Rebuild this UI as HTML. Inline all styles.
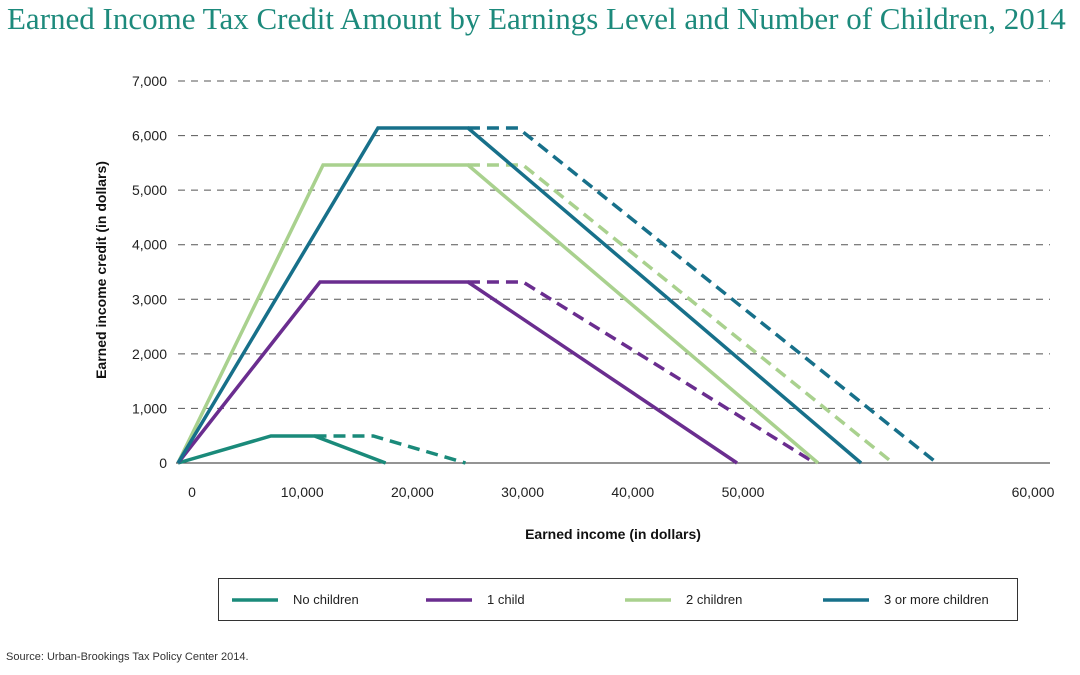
<!DOCTYPE html>
<html><head><meta charset="utf-8"><style>
body{margin:0;width:1080px;height:675px;background:#fff;overflow:hidden;font-family:"Liberation Sans",sans-serif}
#title{position:absolute;left:7px;top:1px;font-family:"Liberation Serif",serif;font-size:31px;color:#1d8a7c;white-space:nowrap;letter-spacing:0px}
#src{position:absolute;left:6px;top:651px;font-size:11px;color:#333}
</style></head><body>
<div id="title">Earned Income Tax Credit Amount by Earnings Level and Number of Children, 2014</div>
<svg id="chart" width="1080" height="675" style="position:absolute;left:0;top:0"></svg>
<div id="src">Source: Urban-Brookings Tax Policy Center 2014.</div>
<script>
const seriesNames=["No children","1 child","2 children","3 or more children"];
const seriesColors=["#1a8a7a","#6a2d8f","#a9d18e","#17708a"];
const solidX=[[0,6400,9400,14300],[0,9780,19970,38500],[0,9990,19970,44080],[0,13770,19970,47040]];
const solidY=[[0,495,495,0],[0,3317,3317,0],[0,5461,5461,0],[0,6139,6139,0]];
const dashX=[[9400,13450,19800],[19970,23760,43870],[19970,23760,49240],[19970,23420,52270]];
const dashY=[[495,495,0],[3317,3317,0],[5461,5461,0],[6139,6139,0]];
const yTicks=[0,1000,2000,3000,4000,5000,6000,7000];
const xTicks=[0,10000,20000,30000,40000,50000];
const xTickLabels=["0","10,000","20,000","30,000","40,000","50,000"];
const NS="http://www.w3.org/2000/svg";
const svg=document.getElementById('chart');
const sx=v=>178+v*0.01452;
const sy=v=>463-v*0.05457;
const lx=v=>192+v*0.01102; // label positions as printed in source
function mk(t,a){const e=document.createElementNS(NS,t);for(const k in a)e.setAttribute(k,a[k]);svg.appendChild(e);return e;}
yTicks.forEach(v=>{
  if(v>0){const g=mk('line',{x1:178,x2:1050,y1:sy(v),y2:sy(v),stroke:'#555','stroke-width':1,'stroke-dasharray':'7,6'});
  
  }
  const t=mk('text',{x:167,y:sy(v)+5,'text-anchor':'end','font-size':14,fill:'#222'});t.textContent=v.toLocaleString('en-US');
  
  
});
const ax=mk('line',{x1:176,x2:1050,y1:463,y2:463,stroke:'#555','stroke-width':1.2});


xTicks.forEach((v,i)=>{const t=mk('text',{x:lx(v),y:497,'text-anchor':'middle','font-size':14,fill:'#222'});t.textContent=xTickLabels[i];
  
  });
const t6=mk('text',{x:1033,y:497,'text-anchor':'middle','font-size':14,fill:'#222'});t6.textContent="60,000";


const xt=mk('text',{x:613,y:539,'text-anchor':'middle','font-size':14,'font-weight':'bold',fill:'#111'});xt.textContent="Earned income (in dollars)";


const yt=mk('text',{x:0,y:0,'text-anchor':'middle','font-size':14,'font-weight':'bold',fill:'#111',transform:'translate(106,270) rotate(-90)'});yt.textContent="Earned income credit (in dollars)";


seriesNames.forEach((n,i)=>{
  const d=dashX[i].map((x,j)=>sx(x)+','+sy(dashY[i][j])).join(' ');
  const p=mk('polyline',{points:d,fill:'none',stroke:seriesColors[i],'stroke-width':3.5,'stroke-dasharray':'12,7'});
  
  
});
seriesNames.forEach((n,i)=>{
  const d=solidX[i].map((x,j)=>sx(x)+','+sy(solidY[i][j])).join(' ');
  const p=mk('polyline',{points:d,fill:'none',stroke:seriesColors[i],'stroke-width':3.5,'stroke-linejoin':'miter'});
  
  
});
const lb=mk('rect',{x:218.5,y:578.5,width:799,height:42,fill:'none',stroke:'#333','stroke-width':1});


const lxs=[232,426,625,823];
seriesNames.forEach((n,i)=>{
  const l=mk('line',{x1:lxs[i],x2:lxs[i]+46,y1:600,y2:600,stroke:seriesColors[i],'stroke-width':3.5});
  
  
  const t=mk('text',{x:lxs[i]+61,y:604,'font-size':13,fill:'#222'});t.textContent=n;
  
  
});
</script>
</body></html>
